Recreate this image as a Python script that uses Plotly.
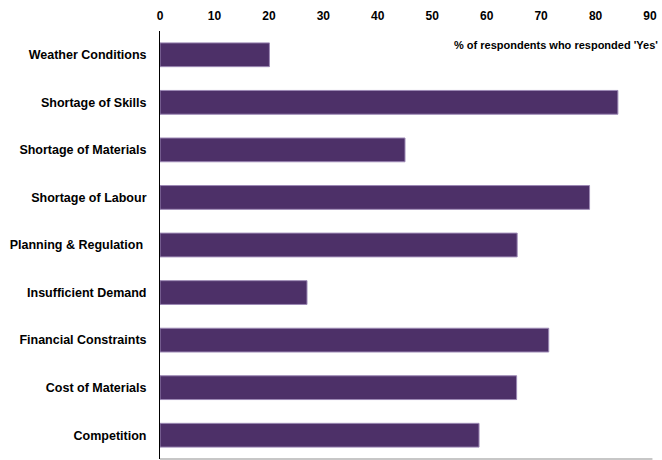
import plotly.graph_objects as go

# Survey results: constraints on activity
categories = [
    "Weather Conditions",
    "Shortage of Skills",
    "Shortage of Materials",
    "Shortage of Labour",
    "Planning & Regulation\u00a0",
    "Insufficient Demand",
    "Financial Constraints",
    "Cost of Materials",
    "Competition",
]
values = [20.1, 84.1, 45.0, 78.9, 65.6, 27.0, 71.4, 65.5, 58.6]
x_ticks = [0, 10, 20, 30, 40, 50, 60, 70, 80, 90]
note = "% of respondents who responded 'Yes'"

BAR = "#4d3068"
EDGE = "#9c88b4"
FONT = "Liberation Sans, Arial, sans-serif"

fig = go.Figure(
    go.Bar(
        x=values,
        y=categories,
        orientation="h",
        width=0.5,
        marker=dict(color=BAR, line=dict(color=EDGE, width=1)),
        hoverinfo="x+y",
    )
)

fig.update_layout(
    width=662,
    height=460,
    margin=dict(l=160, r=12, t=31, b=1),
    paper_bgcolor="white",
    plot_bgcolor="white",
    showlegend=False,
    font=dict(family=FONT, color="#000000"),
    xaxis=dict(
        side="top",
        range=[0, 90],
        tickvals=x_ticks,
        ticktext=[str(v) for v in x_ticks],
        tickfont=dict(size=12, family=FONT, weight="bold"),
        showgrid=False,
        zeroline=False,
        showline=False,
        ticks="",
        ticklabelstandoff=8,
        fixedrange=True,
    ),
    yaxis=dict(
        categoryorder="array",
        categoryarray=categories,
        autorange="reversed",
        tickfont=dict(size=12.5, family=FONT, weight="bold"),
        showgrid=False,
        zeroline=False,
        showline=True,
        linecolor="#000000",
        linewidth=1,
        ticks="",
        ticklabelstandoff=10,
        fixedrange=True,
    ),
    annotations=[
        dict(
            text=note,
            xref="paper",
            yref="paper",
            x=1.02,
            y=0.967,
            xanchor="right",
            yanchor="middle",
            showarrow=False,
            font=dict(size=11, family=FONT, weight="bold", color="#000000"),
        )
    ],
    shapes=[
        dict(
            type="line",
            xref="paper",
            yref="paper",
            x0=0,
            x1=1.005,
            y0=0,
            y1=0,
            line=dict(color="#b4b4b4", width=1.5),
        )
    ],
)

fig.write_html("out.html")
